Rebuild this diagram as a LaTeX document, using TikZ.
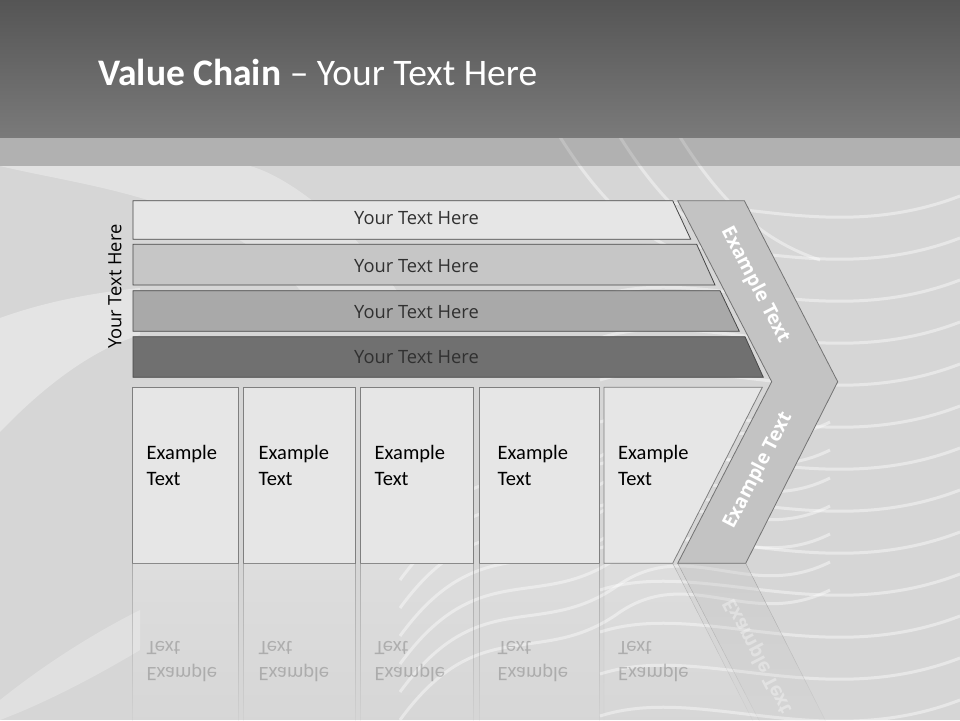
\documentclass[tikz,border=0pt]{standalone}
\usepackage{fontspec}
\setmainfont{Open Sans}
\newfontfamily\calibfont{Carlito}
\usetikzlibrary{calc}
\usetikzlibrary{fadings}

\definecolor{bandtop}{HTML}{555555}
\definecolor{bandbot}{HTML}{7A7A7A}
\definecolor{slidebg}{HTML}{D6D6D6}
\definecolor{barA}{HTML}{E6E6E6}
\definecolor{barB}{HTML}{C6C6C6}
\definecolor{barC}{HTML}{A9A9A9}
\definecolor{barD}{HTML}{707070}
\definecolor{chevfill}{HTML}{C3C3C3}
\definecolor{boxline}{HTML}{7F7F7F}
\definecolor{bartxt}{HTML}{303030}

\tikzfading[name=fade down, top color=transparent!25, bottom color=transparent!100]

\tikzset{
 barshape/.style={draw=black!72, line width=.8pt},
 bartext/.style={text=bartxt, font=\fontsize{18.3}{22}\selectfont, inner sep=0pt},
 boxshape/.style={draw=boxline, line width=.8pt, fill=barA},
 boxtext/.style={anchor=north west, align=left, inner sep=0pt, font=\calibfont\fontsize{20.5}{26}\selectfont},
 chevtext/.style={text=white, font=\bfseries\fontsize{19.3}{22}\selectfont, inner sep=0pt},
 wave/.style={white, line width=3pt, opacity=.42},
 refl/.style={path fading=fade down},
}

\begin{document}
\begin{tikzpicture}[x=1pt,y=-1pt]
\useasboundingbox (0,0) rectangle (960,720);

% background and waves
\fill[slidebg] (0,0) rectangle (960,720);
\fill[white, opacity=.35] (0,318) .. controls (50,300) and (100,292) .. (140,288) -- (140,335) .. controls (90,350) and (40,390) .. (0,432) -- cycle;
\fill[white, opacity=.25] (0,700) .. controls (50,660) and (100,630) .. (140,610) -- (140,650) .. controls (90,680) and (40,705) .. (0,720) -- cycle;
\fill[white, opacity=.3] (0,166) .. controls (100,190) and (250,200) .. (330,330) -- (420,330) .. controls (380,250) and (300,180) .. (250,166) -- cycle;
\foreach \dy in {0,42,...,504} {
 \draw[wave] (600,212+\dy) .. controls (700,180+\dy) and (820,250+\dy) .. (960,196+\dy);
}
\foreach \dy in {0,28,...,168} {
 \draw[wave] (400,720-\dy) .. controls (480,610-\dy) and (540,670-\dy) .. (620,612-\dy) .. controls (690,565-\dy) and (750,630-\dy) .. (830,590-\dy);
}
\foreach \dx in {0,60,120} {
 \draw[wave] (560+\dx,137) .. controls (600+\dx,200) and (640+\dx,240) .. (700+\dx,260);
}
\fill[black, opacity=.17] (0,137) rectangle (960,166);
\shade[top color=bandtop, bottom color=bandbot] (0,0) rectangle (960,137);

\node[anchor=base west, inner sep=0pt, text=white, font=\calibfont\fontsize{37.5}{44}\selectfont] (title) at (98,85) {\textbf{Value Chain} – Your Text Here};

% four bars
\foreach \i/\yt/\yb/\xt/\xb/\col/\ty in {1/200.7/239.3/672.7/690.7/barA/218.3, 2/244.3/285/696.7/715/barB/266.3, 3/290.7/331.3/720/739.3/barC/311.7, 4/336.7/377.3/745/763.3/barD/356.7} {
 \draw[barshape, fill=\col] (133,\yt) -- (\xt,\yt) -- (\xb,\yb) -- (133,\yb) -- cycle;
 \node[bartext] (bar\i) at (416.5,\ty) {Your Text Here};
}
\node[bartext, text=black, rotate=90] (side) at (115,286.7) {Your Text Here};

% chevron
\draw[draw=black!55, line width=.8pt, fill=chevfill] (677.7,200.7) -- (744.3,200.7) -- (837.7,381.7) -- (745.7,563.3) -- (677.7,563.3) -- (771.7,381.7) -- cycle;
\node[chevtext, rotate=-62.6] (upper) at (755,285) {Example Text};
\node[chevtext, rotate=62.6] (lower) at (758.3,470.7) {Example Text};

% boxes
\foreach \i/\xl/\xr/\tx in {1/132.3/238.3/146.5, 2/243.3/355.3/258.5, 3/360.3/473.3/374.5, 4/479/599.5/497.5} {
 \draw[boxshape] (\xl,387.3) rectangle (\xr,563.3);
 \node[boxtext] (box\i) at (\tx,445) {Example\\Text};
}
\draw[boxshape] (604,387.3) -- (762.3,387.3) -- (672.7,563.3) -- (604,563.3) -- cycle;
\node[boxtext] (box5) at (618,445) {Example\\Text};

% reflection
\begin{scope}[shift={(0,1126.6)}, yscale=-1]
\foreach \xl/\xr/\tx in {132.3/238.3/146.5, 243.3/355.3/258.5, 360.3/473.3/374.5, 479/599.5/497.5} {
 \path[refl, draw=boxline, draw opacity=.7, fill=white, fill opacity=.25] (\xl,387.3) rectangle (\xr,563.3);
 \node[boxtext, transform shape, text=black, opacity=.2] at (\tx,445) {Example\\Text};
}
\path[refl, draw=boxline, draw opacity=.7, fill=white, fill opacity=.25] (604,387.3) -- (762.3,387.3) -- (672.7,563.3) -- (604,563.3) -- cycle;
\node[boxtext, transform shape, text=black, opacity=.2] at (618,445) {Example\\Text};
\path[refl, draw=black!55, draw opacity=.7, fill=chevfill, fill opacity=.5] (771.7,381.7) -- (837.7,381.7) -- (745.7,563.3) -- (677.7,563.3) -- cycle;
\node[chevtext, transform shape, rotate=62.6, opacity=.35] at (758.3,470.7) {Example Text};
\end{scope}

\end{tikzpicture}
\end{document}
